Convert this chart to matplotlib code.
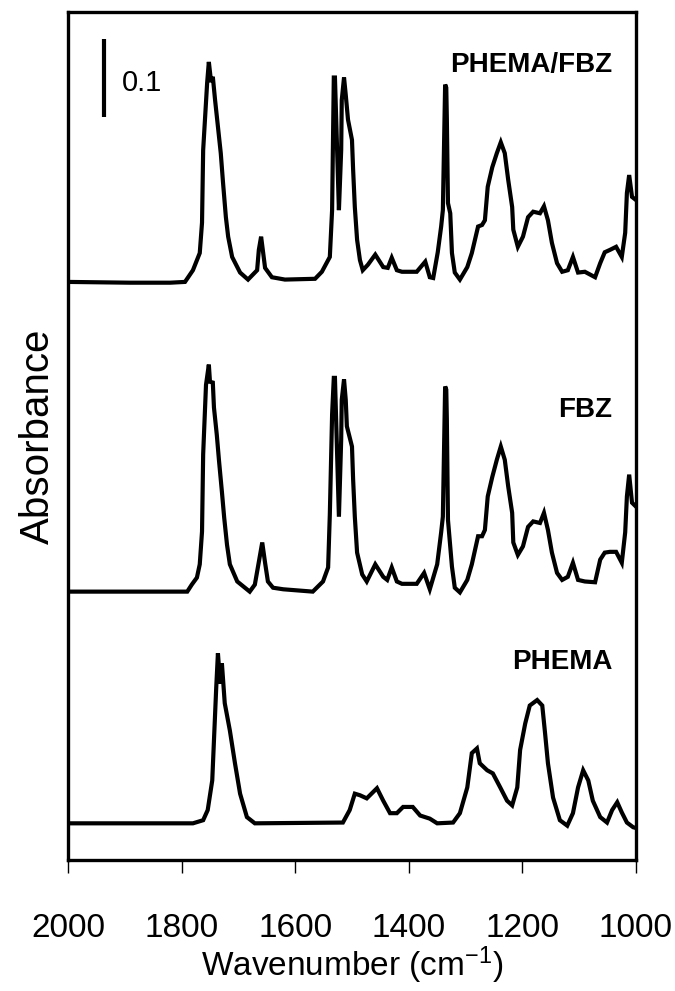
import matplotlib
matplotlib.use("Agg")
import matplotlib.pyplot as plt

plt.rcParams['font.family'] = ['Liberation Sans', 'DejaVu Sans']
plt.rcParams['mathtext.default'] = 'regular'

# wavenumber (cm-1) / absorbance pairs, each spectrum relative to its own baseline
blend_wn = [2000, 1891, 1820, 1794, 1780, 1768, 1764, 1762, 1755, 1752, 1748, 1745, 1741,
            1736, 1731, 1727, 1722, 1718, 1711, 1697, 1683, 1667, 1664, 1660, 1657, 1653,
            1641, 1618, 1565, 1553, 1539, 1535, 1532, 1530, 1523, 1519, 1518, 1514, 1511,
            1507, 1500, 1498, 1495, 1491, 1486, 1481, 1472, 1459, 1445, 1437, 1430, 1421,
            1412, 1386, 1371, 1363, 1357, 1349, 1343, 1340, 1336, 1334, 1333, 1331, 1327,
            1324, 1319, 1310, 1297, 1289, 1278, 1271, 1266, 1261, 1253, 1245, 1238, 1231,
            1225, 1218, 1216, 1208, 1199, 1190, 1181, 1169, 1162, 1155, 1148, 1139, 1130,
            1120, 1111, 1102, 1090, 1072, 1063, 1055, 1046, 1035, 1025, 1019, 1016, 1012,
            1007, 1000]
blend_abs = [0.000, -0.001, -0.001, 0.000, 0.015, 0.037, 0.076, 0.169, 0.255, 0.282, 0.256,
             0.263, 0.233, 0.199, 0.165, 0.127, 0.083, 0.058, 0.032, 0.012, 0.003, 0.015,
             0.041, 0.058, 0.041, 0.018, 0.006, 0.003, 0.004, 0.013, 0.032, 0.092, 0.262,
             0.262, 0.092, 0.169, 0.233, 0.262, 0.240, 0.208, 0.182, 0.144, 0.096, 0.054,
             0.028, 0.015, 0.022, 0.035, 0.019, 0.018, 0.031, 0.015, 0.013, 0.013, 0.026,
             0.006, 0.005, 0.038, 0.071, 0.092, 0.253, 0.249, 0.210, 0.101, 0.088, 0.037,
             0.012, 0.003, 0.019, 0.037, 0.071, 0.073, 0.079, 0.122, 0.147, 0.165, 0.179,
             0.165, 0.131, 0.096, 0.067, 0.045, 0.058, 0.083, 0.090, 0.088, 0.097, 0.079,
             0.050, 0.024, 0.013, 0.015, 0.032, 0.012, 0.013, 0.006, 0.024, 0.038, 0.041,
             0.045, 0.032, 0.063, 0.114, 0.137, 0.109, 0.105]

fbz_wn = [2000, 1790, 1782, 1773, 1768, 1764, 1762, 1757, 1752, 1750, 1745, 1743, 1738,
          1734, 1729, 1725, 1720, 1715, 1702, 1680, 1671, 1664, 1658, 1653, 1648, 1639,
          1621, 1569, 1551, 1542, 1539, 1535, 1532, 1530, 1523, 1519, 1518, 1514, 1511,
          1509, 1500, 1498, 1495, 1491, 1482, 1474, 1459, 1445, 1438, 1430, 1421, 1412,
          1386, 1373, 1363, 1350, 1343, 1340, 1336, 1334, 1333, 1331, 1324, 1319, 1310,
          1297, 1289, 1278, 1271, 1266, 1261, 1253, 1245, 1238, 1231, 1225, 1218, 1216,
          1208, 1199, 1190, 1181, 1169, 1162, 1155, 1148, 1139, 1130, 1120, 1111, 1102,
          1090, 1072, 1063, 1055, 1046, 1035, 1025, 1019, 1016, 1012, 1007, 1000]
fbz_abs = [0.000, 0.000, 0.009, 0.018, 0.035, 0.077, 0.176, 0.265, 0.291, 0.269, 0.268,
           0.236, 0.201, 0.167, 0.128, 0.095, 0.060, 0.035, 0.013, 0.000, 0.009, 0.038,
           0.063, 0.037, 0.013, 0.005, 0.003, 0.000, 0.013, 0.031, 0.099, 0.227, 0.274,
           0.274, 0.096, 0.195, 0.246, 0.272, 0.246, 0.212, 0.186, 0.144, 0.096, 0.050,
           0.022, 0.013, 0.035, 0.019, 0.015, 0.031, 0.013, 0.010, 0.010, 0.024, 0.003,
           0.035, 0.076, 0.096, 0.263, 0.259, 0.221, 0.092, 0.032, 0.005, -0.001, 0.015,
           0.035, 0.071, 0.071, 0.079, 0.122, 0.147, 0.169, 0.186, 0.169, 0.135, 0.101,
           0.063, 0.047, 0.058, 0.083, 0.090, 0.088, 0.101, 0.079, 0.050, 0.024, 0.015,
           0.019, 0.037, 0.015, 0.013, 0.012, 0.041, 0.050, 0.051, 0.051, 0.037, 0.076,
           0.122, 0.150, 0.114, 0.109]

phema_wn = [2000, 1780, 1762, 1754, 1746, 1743, 1739, 1736, 1732, 1729, 1724, 1715, 1706,
            1697, 1685, 1671, 1516, 1504, 1495, 1486, 1474, 1456, 1445, 1433, 1421, 1410,
            1393, 1380, 1363, 1350, 1322, 1310, 1297, 1289, 1280, 1275, 1262, 1252, 1239,
            1227, 1218, 1209, 1204, 1195, 1187, 1174, 1165, 1160, 1155, 1146, 1134, 1121,
            1111, 1102, 1093, 1084, 1076, 1063, 1051, 1042, 1033, 1025, 1016, 1005, 1000]
phema_abs = [0.000, 0.000, 0.004, 0.017, 0.055, 0.106, 0.174, 0.218, 0.179, 0.205, 0.154,
             0.119, 0.077, 0.038, 0.008, 0.000, 0.001, 0.017, 0.038, 0.036, 0.032, 0.045,
             0.029, 0.013, 0.013, 0.021, 0.021, 0.010, 0.006, 0.000, 0.001, 0.013, 0.046,
             0.090, 0.096, 0.077, 0.068, 0.064, 0.046, 0.029, 0.023, 0.046, 0.094, 0.128,
             0.151, 0.158, 0.151, 0.115, 0.077, 0.033, 0.004, -0.003, 0.013, 0.046, 0.068,
             0.055, 0.029, 0.008, 0.001, 0.017, 0.027, 0.014, 0.001, -0.005, -0.006]

names = ['PHEMA/FBZ', 'FBZ', 'PHEMA']
offsets = [0.741, 0.344, 0.047]
label_y = [1.019, 0.577, 0.254]
spectra = [(blend_wn, blend_abs), (fbz_wn, fbz_abs), (phema_wn, phema_abs)]

fig = plt.figure(figsize=(6.75, 9.91), dpi=100)
ax = fig.add_axes([0.1007, 0.1322, 0.8415, 0.8557])

for (wn, ab), off, name, ly in zip(spectra, offsets, names, label_y):
    ax.plot(wn, [a + off for a in ab], color='black', lw=3, solid_joinstyle='miter')
    ax.text(1042, ly, name, ha='right', va='center', fontsize=20, fontweight='bold')

# 0.1 absorbance scale bar
ax.plot([1937, 1937], [0.953, 1.053], color='black', lw=3, solid_capstyle='butt')
ax.text(1905, 0.996, '0.1', ha='left', va='center', fontsize=21)

ax.set_xlim(2000, 1000)
ax.set_ylim(0, 1.087)
ax.set_xticks([2000, 1800, 1600, 1400, 1200, 1000])
ax.set_yticks([])
ax.tick_params(axis='x', direction='out', length=9.5, width=1, labelsize=24, pad=29)
for s in ax.spines.values():
    s.set_linewidth(2.4)

ax.set_xlabel('Wavenumber (cm$^{-1}$)', fontsize=24, labelpad=0)
ax.set_ylabel('Absorbance', fontsize=29, labelpad=8)

fig.savefig('out.png', dpi=100)
